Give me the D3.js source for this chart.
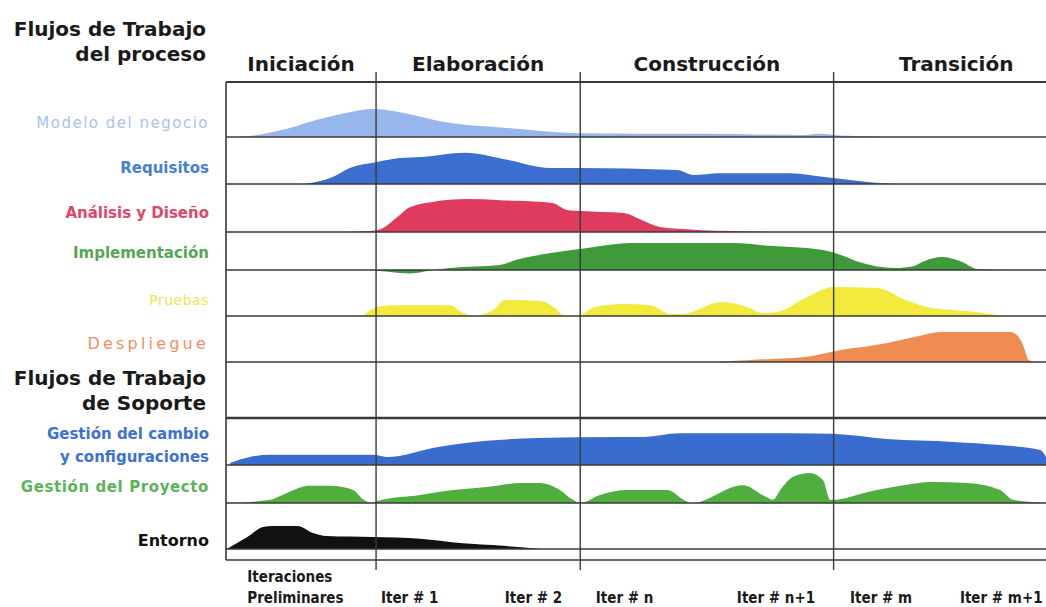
<!DOCTYPE html>
<html>
<head>
<meta charset="utf-8">
<title>Flujos de trabajo RUP</title>
<style>
html, body {
  margin: 0;
  padding: 0;
  background: #fff;
}
svg {
  display: block;
  font-family: 'DejaVu Sans', 'Liberation Sans', Arial, sans-serif;
}
.frame {
  stroke: #3a3a3a;
  fill: none;
}
.head {
  font-weight: bold;
  fill: #1a1a1a;
}
.iter {
  font-family: 'DejaVu Sans Condensed', 'DejaVu Sans', sans-serif;
  font-stretch: condensed;
  font-weight: bold;
  font-size: 15px;
  fill: #1a1a1a;
}
</style>
<script src="https://d3js.org/d3.v7.min.js"></script>
</head>
<body>
<svg width="1046" height="607"></svg>
<script>

// fases del proyecto y donde termina cada una (tiempo en % del proyecto)
var phases = ["Iniciación", "Elaboración", "Construcción", "Transición"];
var phaseEnds = [18.3, 43.2, 74.1, 104];

var iterLabels = ["Iter # 1", "Iter # 2", "Iter # n", "Iter # n+1", "Iter # m", "Iter # m+1"];
var iterTimes = [18.9, 34.0, 45.1, 62.3, 76.1, 89.5];

// esfuerzo [tiempo, nivel 0..10]
var modeloNegocio = [[0.5,0],[2.9,0.3],[5.0,1.1],[7.8,2.6],[11.1,4.9],[15.1,7.1],[17.9,8.0],[21.2,7.1],
  [26.6,4.3],[34.3,2.6],[43.0,1.1],[57.8,0.9],[70.5,0.6],[72.4,0.9],[74.9,0.4],[78.5,0.15],[80.4,0]];
var requisitos = [[9.4,0],[13.0,2.0],[15.1,4.6],[18.4,6.3],[21.2,7.4],[23.9,7.7],[29.1,8.9],[34.3,6.9],
  [39.5,4.6],[43.0,4.6],[55.0,4.0],[57.0,2.6],[60.1,3.1],[68.9,3.1],[73.0,2.0],[78.2,0.6],[81.8,0]];
var analisisDiseno = [[14.3,0],[17.6,0.3],[19.1,1.1],[20.9,4.3],[22.4,7.1],[25.2,8.6],[29.4,9.4],[33.4,9.1],
  [35.4,8.9],[39.8,8.3],[41.6,6.3],[43.3,6.0],[48.5,5.4],[50.7,3.4],[52.9,1.4],[57.4,0.6],[61.8,0.3],[66.2,0]];
var implementacion = [[17.6,0],[20.0,-0.6],[22.4,-1.0],[25.2,0],[27.3,0.6],[33.4,1.4],[35.4,2.9],[39.8,4.9],
  [44.1,6.3],[49.5,7.7],[61.8,7.7],[66.2,6.9],[72.8,5.7],[75.0,4.3],[77.2,2.3],[81.6,0.6],[83.8,1.1],
  [85.2,2.6],[87.3,3.7],[89.5,2.6],[91.7,0.3],[96.1,0]];
var pruebas = [[16.7,0],[18.4,2.6],[20.4,3.1],[27.3,3.1],[28.9,0.9],[30.1,0],[31.0,0.3],[32.6,1.7],
  [34.0,4.6],[38.4,4.3],[40.1,2.3],[41.1,0.3],[42.8,0],[45.0,2.6],[48.5,3.4],[51.7,3.1],[54.3,0.6],
  [55.6,0.6],[60.5,4.0],[63.5,2.6],[65.4,0.9],[67.1,1.1],[70.6,5.1],[74.1,8.3],[79.4,8.0],[82.9,4.6],
  [86.0,2.3],[90.4,1.4],[94.8,0]];
var despliegue = [[59.1,0],[64.0,0.6],[70.6,1.4],[75.0,3.4],[79.4,4.9],[83.8,7.1],[87.3,8.6],[95.7,8.6],
  [97.1,5.4],[97.9,0.6],[98.8,0]];
var gestionCambio = [[0.5,0.6],[2.9,2.3],[5.4,2.9],[17.9,2.9],[19.6,2.3],[25.7,5.1],[31.8,6.9],[37.9,7.7],
  [48.0,8.0],[50.5,8.0],[55.4,9.1],[69.1,9.1],[74.0,8.9],[80.6,7.4],[88.7,6.6],[94.4,5.7],[99.3,4.3],[100,2.3]];
var gestionProyecto = [[0.5,0],[5.4,0.9],[6.6,2.0],[10.2,4.9],[12.7,4.9],[15.5,3.7],[16.7,1.1],[17.9,0],
  [18.4,0.6],[23.7,2.3],[27.7,3.7],[31.8,4.6],[35.9,5.7],[38.3,5.7],[40.7,3.7],[42.3,0.9],[43.2,0],
  [45.6,2.3],[48.9,3.7],[53.8,3.7],[55.7,1.1],[56.8,0],[63.0,5.1],[65.9,1.7],[66.7,0.9],[67.6,3.7],
  [69.1,7.4],[71.2,8.6],[72.8,6.6],[73.7,0.9],[74.0,0.9],[78.2,3.1],[82.2,4.9],[86.2,6.0],[90.4,5.7],
  [94.4,3.7],[96.0,0.9],[100,0]];
var entorno = [[0.1,0],[2.6,3.4],[4.5,6.3],[5.7,6.6],[8.7,6.6],[10.6,4.6],[12.3,3.7],[17.9,3.4],
  [23.7,2.9],[28.5,1.7],[33.8,0.9],[38.3,0]];

var workflows = [
  {label: ["Modelo del negocio"], data: modeloNegocio},
  {label: ["Requisitos"], data: requisitos},
  {label: ["Análisis y Diseño"], data: analisisDiseno},
  {label: ["Implementación"], data: implementacion},
  {label: ["Pruebas"], data: pruebas},
  {label: ["Despliegue"], data: despliegue},
  {label: ["Gestión del cambio", "y configuraciones"], data: gestionCambio},
  {label: ["Gestión del Proyecto"], data: gestionProyecto},
  {label: ["Entorno"], data: entorno}
];

// estilo y posicion de cada fila
var rowStyle = [
  {base: 137, fill: "#97b6ec", text: "#a9c3ef", weight: "normal", size: 15, ls: 1.5, ty: [-14]},
  {base: 184, fill: "#3b6ecf", text: "#4a7ed6", weight: "bold", size: 15, ls: 0, ty: [-16]},
  {base: 232, fill: "#df3b5e", text: "#e04668", weight: "bold", size: 15, ls: 0, ty: [-19]},
  {base: 270, fill: "#3f9a3a", text: "#55a655", weight: "bold", size: 15, ls: 0, ty: [-17]},
  {base: 316, fill: "#f3ea3e", text: "#f1e64e", weight: "normal", size: 14, ls: 0.5, ty: [-16]},
  {base: 362, fill: "#f08b52", text: "#ef9060", weight: "normal", size: 16, ls: 3.2, ty: [-19]},
  {base: 465, fill: "#3a6ccf", text: "#3c72d2", weight: "bold", size: 15, ls: 0, ty: [-31, -8]},
  {base: 503, fill: "#4fae3e", text: "#5bb35a", weight: "bold", size: 15, ls: 0.6, ty: [-16]},
  {base: 549, fill: "#111111", text: "#111111", weight: "bold", size: 16, ls: 0, ty: [-9]}
];

var svg = d3.select("svg");

var x = d3.scaleLinear().domain([0, 100]).range([226, 1046]);
var amp = d3.scaleLinear().domain([0, 10]).range([0, 35]);

var chartTop = 82, chartBottom = 560, soporteLine = 418;

// humps
workflows.forEach(function(w, i) {
  var st = rowStyle[i];
  var area = d3.area()
      .curve(d3.curveMonotoneX)
      .x(function(d) { return x(d[0]); })
      .y0(st.base)
      .y1(function(d) { return st.base - amp(d[1]); });
  svg.append("path")
      .datum(w.data)
      .attr("d", area)
      .attr("fill", st.fill);
});

// lineas de cada fila
var hLines = rowStyle.map(function(r) { return r.base; });
svg.selectAll(".hline")
  .data(hLines)
  .enter().append("line")
    .attr("class", "frame")
    .attr("x1", x(0)).attr("x2", x(100))
    .attr("y1", function(d) { return d; })
    .attr("y2", function(d) { return d; })
    .attr("stroke-width", 1.6);

function hRule(y, w) {
  svg.append("line").attr("class", "frame")
      .attr("x1", x(0)).attr("x2", x(100)).attr("y1", y).attr("y2", y)
      .attr("stroke-width", w);
}
hRule(chartTop, 2.2);
hRule(soporteLine, 2.4);
hRule(chartBottom, 1.6);

svg.append("line").attr("class", "frame")
    .attr("x1", x(0)).attr("x2", x(0)).attr("y1", chartTop).attr("y2", chartBottom)
    .attr("stroke-width", 1.6);

// separadores de fase
svg.selectAll(".phaseline")
  .data(phaseEnds.slice(0, 3))
  .enter().append("line")
    .attr("class", "frame")
    .attr("x1", function(d) { return x(d); })
    .attr("x2", function(d) { return x(d); })
    .attr("y1", chartTop - 10).attr("y2", chartBottom + 10)
    .attr("stroke-width", 1.4);

// nombres de fases
svg.selectAll(".phase")
  .data(phases)
  .enter().append("text")
    .attr("class", "head")
    .attr("x", function(d, i) { return x(((i ? phaseEnds[i - 1] : 0) + phaseEnds[i]) / 2); })
    .attr("y", 71)
    .attr("text-anchor", "middle")
    .attr("font-size", 20)
    .text(function(d) { return d; });

// titulos de grupo
function heading(lines, y) {
  var t = svg.append("text").attr("class", "head")
      .attr("text-anchor", "end").attr("font-size", 20);
  lines.forEach(function(s, i) {
    t.append("tspan").attr("x", 206).attr("y", y + i * 25).text(s);
  });
}
heading(["Flujos de Trabajo", "del proceso"], 36);
heading(["Flujos de Trabajo", "de Soporte"], 385);

// etiquetas de cada flujo
workflows.forEach(function(w, i) {
  var st = rowStyle[i];
  w.label.forEach(function(s, j) {
    svg.append("text")
        .attr("x", 209)
        .attr("y", st.base + st.ty[j])
        .attr("dy", "0.35em")
        .attr("text-anchor", "end")
        .attr("font-size", st.size)
        .attr("font-weight", st.weight)
        .attr("letter-spacing", st.ls)
        .attr("fill", st.text)
        .text(s);
  });
});

// iteraciones
svg.append("text").attr("class", "iter").attr("x", x(2.6)).attr("y", 582).text("Iteraciones");
svg.append("text").attr("class", "iter").attr("x", x(2.6)).attr("y", 603).text("Preliminares");
svg.selectAll(".it")
  .data(iterLabels)
  .enter().append("text")
    .attr("class", "iter")
    .attr("x", function(d, i) { return x(iterTimes[i]); })
    .attr("y", 603)
    .text(function(d) { return d; });

</script>
</body>
</html>
